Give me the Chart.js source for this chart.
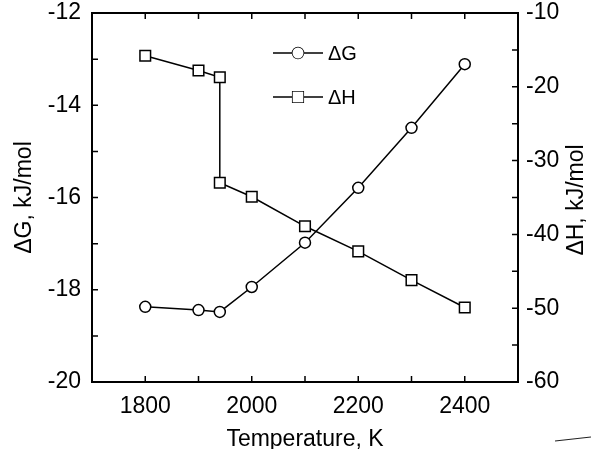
<!DOCTYPE html>
<html>
<head>
<meta charset="utf-8">
<script src="https://cdn.jsdelivr.net/npm/chart.js@4.4.1/dist/chart.umd.min.js"></script>
<style>
  html, body { margin: 0; padding: 0; background: #fff; }
  #wrap { width: 591px; height: 449px; }
</style>
</head>
<body>
<div id="wrap"><canvas id="chart" width="591" height="449"></canvas></div>
<script>
// --- DATA ---
const tempG = [1800, 1900, 1940, 2000, 2100, 2200, 2300, 2400];
const deltaG = [-18.37, -18.44, -18.48, -17.94, -16.98, -15.79, -14.49, -13.11];

const tempH = [1800, 1900, 1940, 1940, 2000, 2100, 2200, 2300, 2400];
const deltaH = [-15.8, -17.8, -18.7, -33.0, -34.9, -38.9, -42.3, -46.2, -49.9];

const xTickLabels = [1800, 2000, 2200, 2400];
const seriesNames = ['\u0394G', '\u0394H'];

const FONT = 'Liberation Sans, Arial, Helvetica, sans-serif';

// pair x/y arrays into points for the scatter-with-lines datasets
function toPoints(xs, ys) {
    return xs.map((x, i) => ({ x: x, y: ys[i] }));
}

// fix scale box sizes so the plot area lands where the original one is
function fixBox(size) {
    return s => {
        if (s.isHorizontal()) { s.height = size; s.paddingLeft = 0; s.paddingRight = 0; }
        else { s.width = size; s.paddingTop = 0; s.paddingBottom = 0; }
    };
}

// --- PLUGIN: frame, inward ticks, legend, right title ---
const framePlugin = {
    id: 'framePlugin',
    afterDraw(chart) {
        const ctx = chart.ctx;
        const a = chart.chartArea;
        const xs = chart.scales.x, yl = chart.scales.y, yr = chart.scales.y1;
        const tick = 6;

        ctx.save();
        ctx.strokeStyle = '#000';
        ctx.lineWidth = 2;
        ctx.strokeRect(a.left, a.top, a.right - a.left, a.bottom - a.top);

        ctx.lineWidth = 1.5;
        ctx.beginPath();
        xs.ticks.forEach(t => {
            const px = xs.getPixelForValue(t.value);
            ctx.moveTo(px, a.bottom); ctx.lineTo(px, a.bottom - tick);
            ctx.moveTo(px, a.top); ctx.lineTo(px, a.top + tick);
        });
        yl.ticks.forEach(t => {
            const py = yl.getPixelForValue(t.value);
            ctx.moveTo(a.left, py); ctx.lineTo(a.left + tick, py);
        });
        yr.ticks.forEach(t => {
            const py = yr.getPixelForValue(t.value);
            ctx.moveTo(a.right, py); ctx.lineTo(a.right - tick, py);
        });
        ctx.stroke();

        // legend
        const legendRows = [
            { y: 53, style: 'circle', r: 5.5 },
            { y: 97, style: 'rect', r: 7.5 }
        ];
        ctx.font = '20px ' + FONT;
        ctx.textBaseline = 'middle';
        ctx.fillStyle = '#000';
        legendRows.forEach((row, i) => {
            ctx.lineWidth = 1.5;
            ctx.beginPath();
            ctx.moveTo(273, row.y); ctx.lineTo(323, row.y);
            ctx.stroke();
            ctx.fillStyle = '#fff';
            Chart.helpers.drawPoint(ctx, { pointStyle: row.style, radius: row.r, borderWidth: 1.5, rotation: 0 }, 298, row.y);
            ctx.fill();
            ctx.fillStyle = '#000';
            ctx.fillText(seriesNames[i], 328, row.y + 1);
        });

        // right axis title, reading bottom to top
        ctx.font = '23px ' + FONT;
        ctx.textAlign = 'center';
        ctx.translate(577, 200);
        ctx.rotate(-Math.PI / 2);
        ctx.fillText('\u0394H, kJ/mol', 0, 0);
        ctx.restore();

        // stray scan mark in the bottom right corner
        ctx.save();
        ctx.strokeStyle = '#222';
        ctx.lineWidth = 1.2;
        ctx.beginPath();
        ctx.moveTo(555, 441);
        ctx.lineTo(591, 437);
        ctx.stroke();
        ctx.restore();
    }
};

const tickFont = { family: FONT, size: 23 };

new Chart(document.getElementById('chart'), {
    type: 'line',
    data: {
        datasets: [
            {
                label: seriesNames[0],
                data: toPoints(tempG, deltaG),
                yAxisID: 'y',
                borderColor: '#000',
                borderWidth: 1.5,
                pointStyle: 'circle',
                pointRadius: 5.5,
                pointBackgroundColor: '#fff',
                pointBorderColor: '#000',
                pointBorderWidth: 1.5,
                tension: 0
            },
            {
                label: seriesNames[1],
                data: toPoints(tempH, deltaH),
                yAxisID: 'y1',
                borderColor: '#000',
                borderWidth: 1.5,
                pointStyle: 'rect',
                pointRadius: 7.5,
                pointBackgroundColor: '#fff',
                pointBorderColor: '#000',
                pointBorderWidth: 1.5,
                tension: 0
            }
        ]
    },
    options: {
        responsive: false,
        animation: false,
        layout: { padding: { top: 13, left: 0, right: 0, bottom: 0 } },
        plugins: { legend: { display: false }, tooltip: { enabled: false } },
        scales: {
            x: {
                type: 'linear',
                min: 1700, max: 2500,
                grid: { display: false },
                border: { display: false },
                ticks: {
                    stepSize: 100,
                    autoSkip: false,
                    maxRotation: 0,
                    color: '#000',
                    font: tickFont,
                    padding: 3,
                    callback: v => xTickLabels.includes(v) ? String(v) : ''
                },
                title: {
                    display: true,
                    text: 'Temperature, K',
                    color: '#000',
                    font: { family: FONT, size: 23, lineHeight: 0.8 },
                    padding: { top: 0, bottom: 0 }
                },
                afterFit: fixBox(67)
            },
            y: {
                position: 'left',
                min: -20, max: -12,
                grid: { display: false },
                border: { display: false },
                ticks: {
                    stepSize: 1,
                    autoSkip: false,
                    color: '#000',
                    font: tickFont,
                    padding: 3,
                    callback: v => (v % 2 === 0) ? String(v) : ''
                },
                title: {
                    display: true,
                    text: '\u0394G, kJ/mol',
                    color: '#000',
                    font: { family: FONT, size: 23, lineHeight: 1 },
                    padding: { top: 13, bottom: 0 }
                },
                afterFit: fixBox(92)
            },
            y1: {
                position: 'right',
                min: -60, max: -10,
                grid: { display: false },
                border: { display: false },
                ticks: {
                    stepSize: 5,
                    autoSkip: false,
                    color: '#000',
                    font: tickFont,
                    padding: 0,
                    callback: v => (v % 10 === 0) ? String(v) : ''
                },
                afterFit: fixBox(73)
            }
        }
    },
    plugins: [framePlugin]
});
</script>
</body>
</html>
